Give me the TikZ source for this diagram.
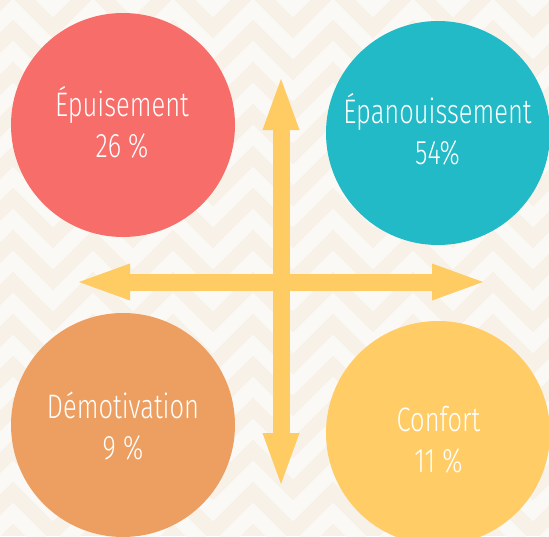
\documentclass[tikz,border=0pt]{standalone}
\usepackage{fontspec}
\usetikzlibrary{arrows.meta}
\newfontfamily\circfont{Fira Sans Light}[FakeStretch=0.75]

\definecolor{bgbeige}{HTML}{F7F1E8}
\definecolor{bgwhite}{HTML}{FBF9F5}
\definecolor{circred}{HTML}{F76D6A}
\definecolor{circteal}{HTML}{21BAC6}
\definecolor{circorange}{HTML}{EC9F61}
\definecolor{circyellow}{HTML}{FFCC66}
\definecolor{arrowyellow}{HTML}{FFCB63}

\tikzset{
  circ/.style={circle, minimum size=224pt, inner sep=0pt},
  lbl/.style={text=white, font=\circfont\fontsize{34}{41}\selectfont, align=center},
  chevron/.style={bgwhite, line width=14.8pt, line join=miter},
  bigarrow/.style={arrowyellow, line width=17pt,
    {Triangle[width=37pt,length=51pt,line width=0pt]}-{Triangle[width=37pt,length=51pt,line width=0pt]}}
}

\begin{document}
\begin{tikzpicture}[x=1pt,y=-1pt]
\useasboundingbox (0,0) rectangle (549,536);
\fill[bgbeige] (0,0) rectangle (549,536);

% zigzag background
\begin{scope}
\clip (0,0) rectangle (549,536);
\foreach \j in {-2,...,13} {
  \pgfmathsetmacro{\yy}{9+42*\j}
  \draw[chevron] (-27,\yy+40) \foreach \k in {1,...,15} { -- ({-27+40*\k},{\yy+40*mod(\k+1,2)}) };
}
\end{scope}

% circles
\node[circ, fill=circred] (epuis) at (123,125) {};
\node[circ, fill=circteal] (epan) at (438,133) {};
\node[circ, fill=circorange] (demot) at (123,425) {};
\node[circ, fill=circyellow] (conf) at (438,433) {};

\node[lbl] (epuisT) at (122,122.5) {Épuisement\\26 \%};
\node[lbl] (epanT) at (437.5,129.5) {Épanouissement\\54\%};
\node[lbl] (demotT) at (123,426) {Démotivation\\9 \%};
\node[lbl] (confT) at (438.5,440) {Confort\\11 \%};

% axes
\coordinate (up) at (281,79);
\coordinate (down) at (281,484);
\coordinate (left) at (79,282);
\coordinate (right) at (483,282);
\draw[bigarrow] (down) -- (up);
\draw[bigarrow] (left) -- (right);
\end{tikzpicture}
\end{document}
